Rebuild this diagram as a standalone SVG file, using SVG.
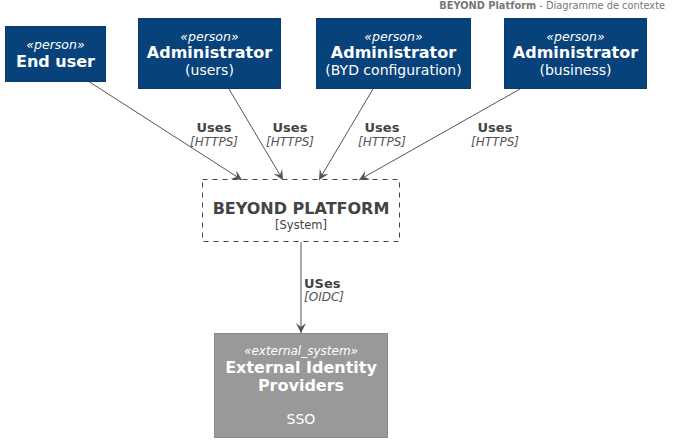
<svg xmlns="http://www.w3.org/2000/svg" width="676" height="447" viewBox="0 0 676 447">
<style>
text{font-family:"DejaVu Sans","Liberation Sans",sans-serif}
.person rect{fill:#08427B;stroke:#073B6F;stroke-width:1}
.ext rect{fill:#999999;stroke:#8A8A8A;stroke-width:1}
.w{fill:#FFFFFF;text-anchor:middle}
.st{font-size:12.5px;font-style:italic}
.nm{font-size:16px;font-weight:bold}
.ds{font-size:14px}
.lbl{fill:#444444;font-size:13px;font-weight:bold;text-anchor:middle}
.tech{fill:#555555;font-size:12px;font-style:italic;text-anchor:middle}
.conn line{stroke:#555555;stroke-width:1}
</style>
<defs>
<marker id="arr" viewBox="0 0 10 10" refX="10" refY="5" markerWidth="10" markerHeight="10" markerUnits="userSpaceOnUse" orient="auto">
<path d="M0,0 L10,5 L0,10 L4,5 Z" fill="#555555"/>
</marker>
</defs>
<text x="665" y="9" font-size="9.8" fill="#777777" text-anchor="end"><tspan font-weight="bold">BEYOND Platform</tspan> - Diagramme de contexte</text>

<g class="conn">
<line x1="88" y1="81" x2="242" y2="180" marker-end="url(#arr)"/>
<line x1="229" y1="89" x2="283" y2="180" marker-end="url(#arr)"/>
<line x1="373" y1="89" x2="319" y2="180" marker-end="url(#arr)"/>
<line x1="520" y1="89" x2="359" y2="180" marker-end="url(#arr)"/>
<line x1="301" y1="242" x2="301" y2="333" marker-end="url(#arr)"/>
<text class="lbl" x="214" y="132">Uses</text>
<text class="tech" x="214" y="146">[HTTPS]</text>
<text class="lbl" x="290" y="132">Uses</text>
<text class="tech" x="290" y="146">[HTTPS]</text>
<text class="lbl" x="382" y="132">Uses</text>
<text class="tech" x="382" y="146">[HTTPS]</text>
<text class="lbl" x="495" y="132">Uses</text>
<text class="tech" x="495" y="146">[HTTPS]</text>
<text class="lbl" x="304" y="288" style="text-anchor:start">USes</text>
<text class="tech" x="304" y="301" style="text-anchor:start">[OIDC]</text>
</g>

<g id="enduser" class="person">
<rect x="5.5" y="26.5" width="100" height="55"/>
<text class="w st" x="55.5" y="49">«person»</text>
<text class="w nm" x="55.5" y="67">End user</text>
</g>
<g id="admin_users" class="person">
<rect x="138.5" y="18.5" width="142" height="70"/>
<text class="w st" x="209.5" y="41">«person»</text>
<text class="w nm" x="209.5" y="58">Administrator</text>
<text class="w ds" x="209.5" y="75">(users)</text>
</g>
<g id="admin_byd" class="person">
<rect x="316.5" y="18.5" width="154" height="70"/>
<text class="w st" x="393.5" y="41">«person»</text>
<text class="w nm" x="393.5" y="58">Administrator</text>
<text class="w ds" x="393.5" y="75">(BYD configuration)</text>
</g>
<g id="admin_business" class="person">
<rect x="504.5" y="18.5" width="142" height="70"/>
<text class="w st" x="575.5" y="41">«person»</text>
<text class="w nm" x="575.5" y="58">Administrator</text>
<text class="w ds" x="575.5" y="75">(business)</text>
</g>
<g id="beyond">
<rect x="202.5" y="179.5" width="197" height="62" fill="none" stroke="#444444" stroke-width="1" stroke-dasharray="5,5"/>
<text x="301" y="214" font-size="16" font-weight="bold" fill="#444444" text-anchor="middle">BEYOND PLATFORM</text>
<text x="301" y="229" font-size="11.5" fill="#444444" text-anchor="middle">[System]</text>
</g>
<g id="idp" class="ext">
<rect x="214.5" y="333.5" width="173" height="104"/>
<text class="w st" x="301" y="355" style="font-size:12px">«external_system»</text>
<text class="w nm" x="301" y="373">External Identity</text>
<text class="w nm" x="301" y="391">Providers</text>
<text class="w ds" x="301" y="424">SSO</text>
</g>
</svg>
